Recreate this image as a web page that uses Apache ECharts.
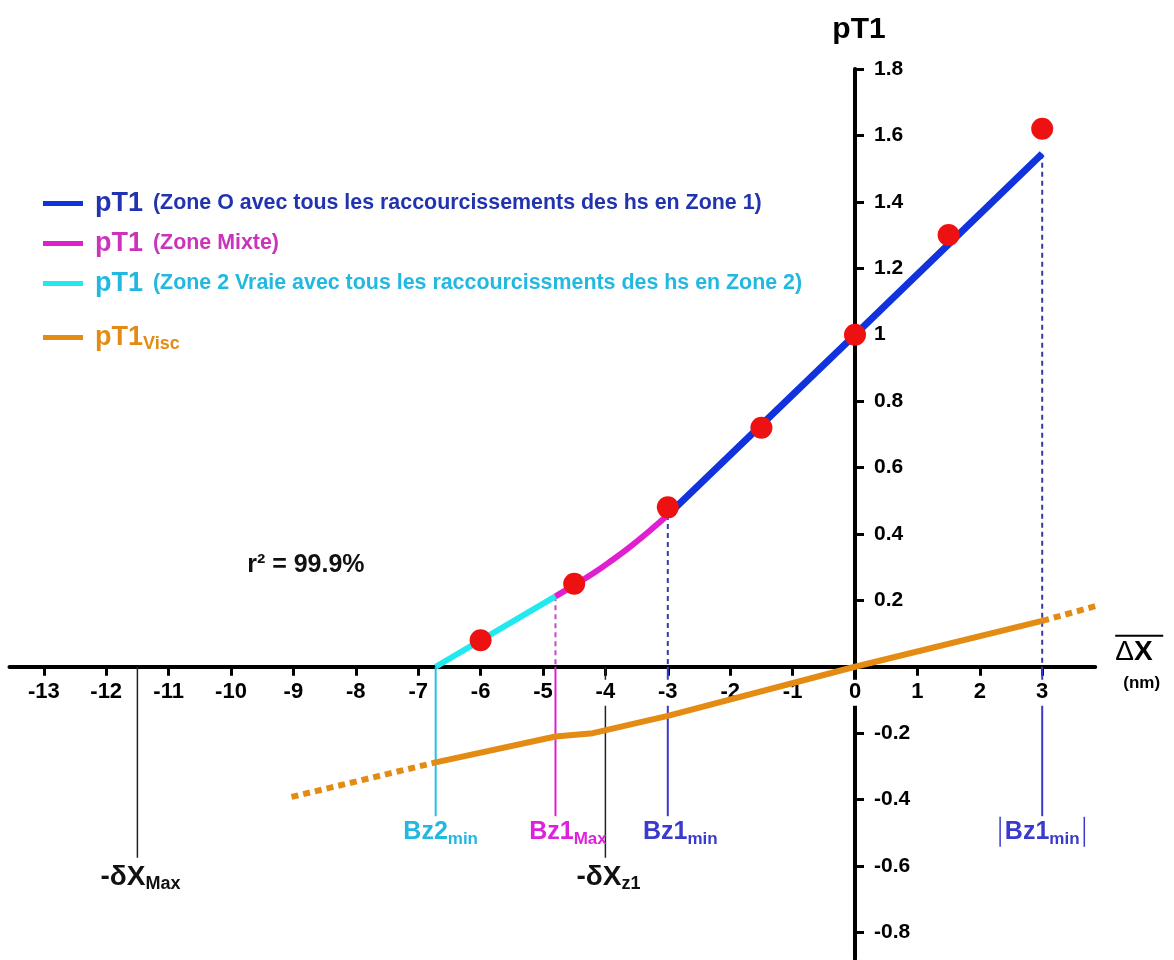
<!DOCTYPE html>
<html><head><meta charset="utf-8">
<script src="https://cdn.jsdelivr.net/npm/echarts@6/dist/echarts.min.js"></script>
<style>html,body{margin:0;padding:0;background:#fff}#c{width:1174px;height:960px}</style>
</head><body><div id="c"></div>
<script>
// ---- data ----
const xTicks = [-13,-12,-11,-10,-9,-8,-7,-6,-5,-4,-3,-2,-1,0,1,2,3];
const yTicks = [-0.8,-0.6,-0.4,-0.2,0.2,0.4,0.6,0.8,1,1.2,1.4,1.6,1.8];
const zone1 = [[-3,0.457],[0,1.0],[3,1.545]];
const zoneMixte = [[-4.8,0.212],[-4.5,0.246],[-4.2,0.281],[-3.9,0.32],[-3.6,0.362],[-3.3,0.408],[-3.0,0.457]];
const zone2 = [[-6.72,0],[-4.8,0.212]];
const points = [[-6,0.08],[-4.5,0.25],[-3,0.48],[-1.5,0.72],[0,1.0],[1.5,1.30],[3,1.62]];
const visc = [[-6.72,-0.288],[-4.8,-0.21],[-4.2,-0.2],[-3,-0.148],[0,0],[3,0.138]];
const viscExtLeft = [[-9.03,-0.392],[-6.72,-0.288]];
const viscExtRight = [[3,0.138],[4.07,0.194]];
const bz2min = -6.72, bz1max = -4.8, bz1min = -3, absBz1min = 3, dXmax = -11.5, dXz1 = -4.0;
const r2Text = 'r² = 99.9%';

const FONT = "'Liberation Sans', Arial, sans-serif";
const C = {
  blue:'#1133dd', blueTxt:'#2233b0', mag:'#e020d0', magTxt:'#cc33bb',
  cyan:'#22e8f0', cyanTxt:'#22b8e0', cyanV:'#22c0e8', orange:'#e38b12',
  red:'#ee1111', vBlue:'#3a3acc', vBlueDash:'#3a3aa0', vMagDash:'#cc44cc'
};

function vline(name, pts, color, type, width, z){
  return {name, type:'line', data:pts, symbol:'none', silent:true, z:z||1,
    lineStyle:{color, width:width||2, type:type||'solid'}};
}
const labY = -0.497, labY2 = -0.633;
function sub(main, s, color, ms, ss){
  return {formatter:'{m|'+main+'}{s|'+s+'}', rich:{
    m:{fontFamily:FONT, fontWeight:'bold', fontSize:ms||25, color, lineHeight:32},
    s:{fontFamily:FONT, fontWeight:'bold', fontSize:ss||17, color, lineHeight:16, verticalAlign:'bottom'}
  }};
}
function legRich(color){
  return {rich:{
    p:{fontFamily:FONT, fontWeight:'bold', fontSize:27, color, lineHeight:30, padding:[0,0,0,7]},
    t:{fontFamily:FONT, fontWeight:'bold', fontSize:21.4, color, lineHeight:30, padding:[0,0,0,10]}}};
}

const option = {
  animation:false,
  backgroundColor:'#fff',
  grid:{left:855-13.55*62.4, right:1174-(855+3.85*62.4), top:69, bottom:1, containLabel:false, outerBoundsMode:'none'},
  xAxis:{type:'value', min:-13.55, max:3.85,
    axisLine:{onZero:true, lineStyle:{color:'#000', width:4}},
    axisTick:{customValues:xTicks, length:9, lineStyle:{color:'#000', width:3}},
    axisLabel:{show:false},
    splitLine:{show:false},
    name:'{ol|}\n{dl|Δ}{dx|X}\n{n|(nm)}', nameLocation:'end', nameGap:20,
    nameTextStyle:{rich:{
      ol:{width:48, height:2, lineHeight:6, backgroundColor:'#000'},
      dl:{fontFamily:FONT, fontSize:28, color:'#000', lineHeight:28},
      dx:{fontFamily:FONT, fontWeight:'bold', fontSize:28, color:'#000', lineHeight:28},
      n:{fontFamily:FONT, fontWeight:'bold', fontSize:17, color:'#000', lineHeight:34, padding:[0,0,0,8]}
    }}
  },
  yAxis:{type:'value', min:-0.88, max:1.8, position:'right',
    axisLine:{onZero:true, lineStyle:{color:'#000', width:4}},
    axisTick:{customValues:yTicks, length:9, lineStyle:{color:'#000', width:3}},
    axisLabel:{show:false},
    splitLine:{show:false},
    name:'pT1', nameLocation:'end', nameGap:24,
    nameTextStyle:{fontFamily:FONT, fontWeight:'bold', fontSize:30, color:'#000', padding:[0,0,0,8]}
  },
  legend:[{
    orient:'vertical', left:43, top:190, padding:0, itemWidth:40, itemHeight:5, itemGap:13, icon:'rect',
    selectedMode:false,
    data:[
      {name:'pT1 Zone O', textStyle:legRich(C.blueTxt)},
      {name:'pT1 Zone Mixte', textStyle:legRich(C.magTxt)},
      {name:'pT1 Zone 2', textStyle:legRich(C.cyanTxt)}
    ],
    formatter:function(n){
      const m = {'pT1 Zone O':'(Zone O avec tous les raccourcissements des hs en Zone 1)',
                 'pT1 Zone Mixte':'(Zone Mixte)',
                 'pT1 Zone 2':'(Zone 2 Vraie avec tous les raccourcissments des hs en Zone 2)'};
      return '{p|pT1}{t|'+m[n]+'}';
    }
  },{
    orient:'vertical', left:43, top:324, padding:0, itemWidth:40, itemHeight:5, icon:'rect', selectedMode:false,
    data:[{name:'pT1 Visc', textStyle:{rich:{
      p:{fontFamily:FONT, fontWeight:'bold', fontSize:27, color:C.orange, lineHeight:32, padding:[0,0,0,7]},
      v:{fontFamily:FONT, fontWeight:'bold', fontSize:18, color:C.orange, lineHeight:17, verticalAlign:'bottom'}}}}],
    formatter:function(){ return '{p|pT1}{v|Visc}'; }
  }],
  series:[
    // vertical guide lines
    vline('v1', [[dXmax,0],[dXmax,-0.575]], '#222', 'solid', 1.5),
    vline('v2', [[bz2min,0],[bz2min,-0.45]], C.cyanV, 'solid', 2, 2.5),
    vline('v3', [[bz1max,zone2[1][1]],[bz1max,0]], C.vMagDash, [5,4]),
    vline('v4', [[bz1max,0],[bz1max,-0.45]], C.mag, 'solid', 2, 2.5),
    vline('v5', [[dXz1,0],[dXz1,-0.575]], '#222', 'solid', 1.5),
    vline('v6', [[bz1min,zone1[0][1]],[bz1min,0]], C.vBlueDash, [5,4]),
    vline('v7', [[bz1min,0],[bz1min,-0.45]], C.vBlue),
    vline('v8', [[absBz1min,zone1[2][1]],[absBz1min,0]], C.vBlueDash, [5,4]),
    vline('v9', [[absBz1min,0],[absBz1min,-0.45]], C.vBlue),
    // visc
    {name:'pT1 Visc', type:'line', data:visc, symbol:'none', z:3, lineStyle:{color:C.orange, width:6}, itemStyle:{color:C.orange}},
    {name:'viscL', type:'line', data:viscExtLeft, symbol:'none', z:3, lineStyle:{color:C.orange, width:6, type:[7,5]}},
    {name:'viscR', type:'line', data:viscExtRight, symbol:'none', z:3, clip:false, lineStyle:{color:C.orange, width:6, type:[7,5]}},
    // pT1 zones
    {name:'pT1 Zone 2', type:'line', data:zone2, symbol:'none', z:4, lineStyle:{color:C.cyan, width:6}, itemStyle:{color:C.cyan}},
    {name:'pT1 Zone Mixte', type:'line', data:zoneMixte, smooth:true, symbol:'none', z:4, lineStyle:{color:C.mag, width:6}, itemStyle:{color:C.mag}},
    {name:'pT1 Zone O', type:'line', data:zone1, symbol:'none', z:4, lineStyle:{color:C.blue, width:7}, itemStyle:{color:C.blue}},
    {name:'points', type:'scatter', data:points, symbolSize:22, z:6, itemStyle:{color:C.red, opacity:1}},
    // tick labels
    {name:'xlabels', type:'scatter', symbolSize:0, silent:true, z:2, itemStyle:{opacity:1},
      data:xTicks.map(v=>[v,0]),
      label:{show:true, position:'bottom', distance:13, formatter:p=>String(p.value[0]),
        fontFamily:FONT, fontWeight:'bold', fontSize:22, color:'#000', backgroundColor:'#fff', padding:[1,1,3,1]}},
    {name:'ylabels', type:'scatter', symbolSize:0, silent:true, z:5, itemStyle:{opacity:1},
      data:yTicks.map(v=>[0,v]),
      label:{show:true, position:'right', distance:19, formatter:p=>String(p.value[1]),
        fontFamily:FONT, fontWeight:'bold', fontSize:21, color:'#000'}},
    // annotations
    {name:'annot', type:'scatter', symbolSize:0, silent:true, z:7, itemStyle:{opacity:1},
      label:{show:true, position:'inside'},
      data:[
        {value:[bz2min+0.08, labY], label:sub('Bz2','min',C.cyanTxt)},
        {value:[bz1max+0.2, labY], label:sub('Bz1','Max','#dd22dd')},
        {value:[bz1min+0.2, labY], label:sub('Bz1','min',C.vBlue)},
        {value:[absBz1min+0.0, labY], label:{formatter:'{b|}{m|Bz1}{s|min}{b|}', rich:{
          b:{width:1.5, height:30, lineHeight:32, backgroundColor:C.vBlue},
          m:{fontFamily:FONT, fontWeight:'bold', fontSize:25, color:C.vBlue, lineHeight:32, padding:[0,0,0,4]},
          s:{fontFamily:FONT, fontWeight:'bold', fontSize:17, color:C.vBlue, lineHeight:16, verticalAlign:'bottom', padding:[0,4,0,0]}}}},
        {value:[dXmax+0.05, labY2], label:sub('-δX','Max','#111',28,18)},
        {value:[dXz1+0.05, labY2], label:sub('-δX','z1','#111',28,18)},
        {value:[-8.8, 0.305], label:{formatter:r2Text, fontFamily:FONT, fontWeight:'bold', fontSize:25, color:'#111'}}
      ]}
  ]
};
const chart = echarts.init(document.getElementById('c'), null, {renderer:'canvas'});
chart.setOption(option);
</script></body></html>
